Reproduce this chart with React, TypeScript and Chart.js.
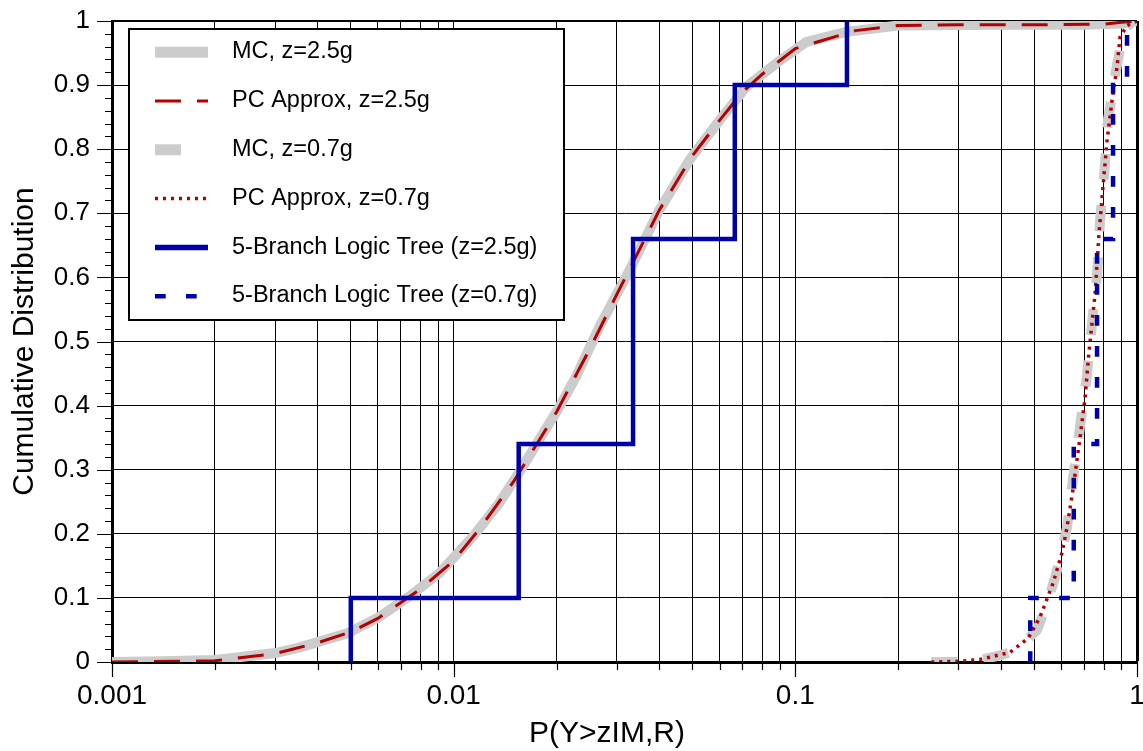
import React, { useEffect, useRef } from 'react';
import { Chart, registerables } from 'chart.js';

Chart.register(...registerables);

// ---- Data ----
const mc25X = [0.001, 0.0014, 0.002, 0.003, 0.0035, 0.004, 0.0049, 0.006, 0.0074, 0.0091, 0.0114, 0.0136, 0.0156, 0.0178, 0.0204, 0.0228, 0.0267, 0.0327, 0.04, 0.049, 0.06, 0.0717, 0.09, 0.1075, 0.141, 0.2, 0.4, 0.7, 0.9, 1.0];
const mc25Y = [0, 0.001, 0.003, 0.014, 0.022, 0.031, 0.045, 0.069, 0.102, 0.139, 0.196, 0.248, 0.297, 0.347, 0.398, 0.445, 0.523, 0.611, 0.705, 0.783, 0.845, 0.897, 0.938, 0.967, 0.983, 0.993, 0.994, 0.994, 0.996, 1.0];

const pc25X = [0.001, 0.002, 0.003, 0.004, 0.005, 0.006, 0.008, 0.01, 0.012, 0.015, 0.02, 0.025, 0.03, 0.04, 0.05, 0.06, 0.07, 0.08, 0.1, 0.15, 0.2, 0.3, 0.5, 0.8, 0.9, 1.0];
const pc25Y = [0, 0.002, 0.013, 0.03, 0.047, 0.068, 0.114, 0.158, 0.21, 0.282, 0.39, 0.488, 0.573, 0.705, 0.79, 0.845, 0.889, 0.917, 0.957, 0.985, 0.993, 0.994, 0.994, 0.995, 0.998, 1.0];

const mc07X = [0.25, 0.3, 0.35, 0.389, 0.43, 0.47, 0.51, 0.545, 0.575, 0.6, 0.624, 0.65, 0.681, 0.714, 0.738, 0.764, 0.779, 0.803, 0.822, 0.868, 0.916, 0.973, 1.0];
const mc07Y = [0, 0, 0.004, 0.009, 0.016, 0.032, 0.05, 0.09, 0.131, 0.168, 0.21, 0.287, 0.367, 0.448, 0.526, 0.605, 0.686, 0.766, 0.845, 0.923, 0.988, 0.999, 1.0];

const pc07X = [0.25, 0.3, 0.347, 0.425, 0.48, 0.52, 0.568, 0.603, 0.624, 0.65, 0.681, 0.704, 0.722, 0.754, 0.774, 0.795, 0.817, 0.845, 0.874, 0.892, 0.935, 1.0];
const pc07Y = [0, 0.001, 0.004, 0.015, 0.037, 0.07, 0.123, 0.17, 0.21, 0.27, 0.35, 0.41, 0.478, 0.575, 0.668, 0.741, 0.813, 0.876, 0.928, 0.975, 0.993, 1.0];

const tree25X = [0.005, 0.005, 0.0155, 0.0335, 0.0665, 0.1416];
const tree25Y = [0, 0.1, 0.34, 0.66, 0.9, 1.0];

const tree07X = [0.487, 0.487, 0.653, 0.764, 0.851, 0.935];
const tree07Y = [0, 0.1, 0.34, 0.66, 0.9, 1.0];

const seriesLabels = [
  'MC, z=2.5g',
  'PC Approx, z=2.5g',
  'MC, z=0.7g',
  'PC Approx, z=0.7g',
  '5-Branch Logic Tree (z=2.5g)',
  '5-Branch Logic Tree (z=0.7g)',
];

const xGridValues = [
  0.001, 0.002, 0.003, 0.004, 0.005, 0.006, 0.007, 0.008, 0.009,
  0.01, 0.02, 0.03, 0.04, 0.05, 0.06, 0.07, 0.08, 0.09,
  0.1, 0.2, 0.3, 0.4, 0.5, 0.6, 0.7, 0.8, 0.9, 1,
];
const xDecadeValues = [0.001, 0.01, 0.1, 1];
const xDecadeLabels = ['0.001', '0.01', '0.1', '1'];

const yTickValues = [0, 0.1, 0.2, 0.3, 0.4, 0.5, 0.6, 0.7, 0.8, 0.9, 1];
const yTickLabels = ['0', '0.1', '0.2', '0.3', '0.4', '0.5', '0.6', '0.7', '0.8', '0.9', '1'];

const xTitle = 'P(Y>zIM,R)';
const yTitle = 'Cumulative Distribution';

const FONT = "'Liberation Sans', Arial, Helvetica, sans-serif";
const GRAY = '#cccccc';
const RED = '#b40000';
const BLUE = '#0000aa';

const pts = (xs: number[], ys: number[]) => xs.map((x, i) => ({ x, y: ys[i] }));

const overlayPlugin = {
  id: 'overlay',
  afterDraw(chart: any) {
    const { ctx, chartArea, scales } = chart;
    const xs = scales.x;
    const ys = scales.y;
    ctx.save();

    // tick marks
    ctx.strokeStyle = '#000';
    ctx.lineWidth = 1.2;
    ctx.setLineDash([]);
    ctx.beginPath();
    yTickValues.forEach((v) => {
      const py = Math.round(ys.getPixelForValue(v)) + 0.5;
      ctx.moveTo(chartArea.left - 15, py);
      ctx.lineTo(chartArea.left, py);
    });
    for (let i = 0; i < 10; i++) {
      for (let k = 1; k < 5; k++) {
        const v = i / 10 + k / 50;
        const py = Math.round(ys.getPixelForValue(v)) + 0.5;
        ctx.moveTo(chartArea.left - 7, py);
        ctx.lineTo(chartArea.left, py);
      }
    }
    xGridValues.forEach((v) => {
      const px = Math.round(xs.getPixelForValue(v)) + 0.5;
      const len = xDecadeValues.includes(v) ? 15 : 8;
      ctx.moveTo(px, chartArea.bottom);
      ctx.lineTo(px, chartArea.bottom + len);
    });
    ctx.stroke();

    // axis titles
    ctx.fillStyle = '#000';
    ctx.font = `30px ${FONT}`;
    ctx.textAlign = 'center';
    ctx.textBaseline = 'alphabetic';
    ctx.fillText(xTitle, 607, 742);
    ctx.save();
    ctx.translate(33, (chartArea.top + chartArea.bottom) / 2);
    ctx.rotate(-Math.PI / 2);
    ctx.fillText(yTitle, 0, 0);
    ctx.restore();

    // legend box
    ctx.fillStyle = '#fff';
    ctx.fillRect(128, 28, 437, 293);
    ctx.strokeStyle = '#000';
    ctx.lineWidth = 2;
    ctx.strokeRect(129, 29, 435, 291);

    const datasets = chart.data.datasets;
    ctx.font = `23.5px ${FONT}`;
    ctx.textAlign = 'left';
    datasets.forEach((ds: any, i: number) => {
      const yRow = 52.2 + i * 48.8;
      ctx.save();
      ctx.strokeStyle = ds.borderColor;
      ctx.lineWidth = ds.legendWidth || ds.borderWidth;
      ctx.lineCap = 'butt';
      ctx.setLineDash(ds.borderDash || []);
      ctx.lineDashOffset = 0;
      ctx.beginPath();
      ctx.moveTo(155, yRow);
      ctx.lineTo(ds.legendEnd || 208, yRow);
      ctx.stroke();
      ctx.restore();
      ctx.fillStyle = '#000';
      ctx.fillText(ds.label, 232, yRow + 6.2);
    });

    ctx.restore();
  },
};

export default function App() {
  const ref = useRef<HTMLCanvasElement>(null);

  useEffect(() => {
    if (!ref.current) return;
    const chart = new Chart(ref.current, {
      type: 'line',
      data: {
        datasets: [
          {
            label: seriesLabels[0],
            data: pts(mc25X, mc25Y),
            borderColor: GRAY,
            borderWidth: 10,
            legendWidth: 11,
            borderCapStyle: 'round',
            borderJoinStyle: 'round',
            pointRadius: 0,
            tension: 0,
            order: 6,
          } as any,
          {
            label: seriesLabels[1],
            data: pts(pc25X, pc25Y),
            borderColor: RED,
            borderWidth: 3,
            borderDash: [26, 16],
            pointRadius: 0,
            tension: 0,
            order: 4,
          },
          {
            label: seriesLabels[2],
            data: pts(mc07X, mc07Y),
            borderColor: GRAY,
            borderWidth: 10,
            legendWidth: 11,
            legendEnd: 207,
            borderDash: [26, 26],
            pointRadius: 0,
            tension: 0,
            order: 5,
          } as any,
          {
            label: seriesLabels[3],
            data: pts(pc07X, pc07Y),
            borderColor: RED,
            borderWidth: 3.5,
            borderDash: [3, 5],
            pointRadius: 0,
            tension: 0,
            order: 3,
          },
          {
            label: seriesLabels[4],
            data: pts(tree25X, tree25Y),
            borderColor: BLUE,
            borderWidth: 4.5,
            legendWidth: 5.5,
            stepped: 'before',
            pointRadius: 0,
            order: 2,
          } as any,
          {
            label: seriesLabels[5],
            data: pts(tree07X, tree07Y),
            borderColor: BLUE,
            borderWidth: 4.5,
            borderDash: [10.7, 20.3],
            stepped: 'before',
            pointRadius: 0,
            order: 1,
          } as any,
        ],
      },
      options: {
        responsive: true,
        maintainAspectRatio: false,
        animation: false,
        devicePixelRatio: 1,
        layout: { padding: { top: 21, right: 6, left: 0, bottom: 0 } },
        plugins: {
          legend: { display: false },
          tooltip: { enabled: false },
          title: { display: false },
        },
        events: [],
        scales: {
          x: {
            type: 'logarithmic',
            min: 0.001,
            max: 1,
            afterBuildTicks: (s: any) => {
              s.ticks = xGridValues.map((v) => ({ value: v, major: false }));
            },
            afterFit: (s: any) => {
              s.height = 89;
              s.paddingLeft = 0;
              s.paddingRight = 0;
            },
            ticks: {
              autoSkip: false,
              maxRotation: 0,
              minRotation: 0,
              padding: 17,
              color: '#000',
              font: { family: FONT, size: 28 },
              callback: (v: any) => {
                const i = xDecadeValues.indexOf(Number(v));
                return i >= 0 ? xDecadeLabels[i] : '';
              },
            },
            grid: {
              drawTicks: false,
              color: '#000',
              lineWidth: (c: any) => (c.tick && c.tick.value === 1 ? 3 : 1),
            },
            border: { display: true, color: '#000', width: 3 },
          },
          y: {
            type: 'linear',
            min: 0,
            max: 1,
            afterBuildTicks: (s: any) => {
              s.ticks = yTickValues.map((v) => ({ value: v }));
            },
            afterFit: (s: any) => {
              s.width = 112;
              s.paddingTop = 0;
              s.paddingBottom = 0;
            },
            ticks: {
              padding: 22,
              color: '#000',
              font: { family: FONT, size: 26 },
              callback: (_v: any, i: number) => yTickLabels[i],
            },
            grid: {
              drawTicks: false,
              color: '#000',
              lineWidth: (c: any) => (c.tick && c.tick.value === 1 ? 2 : 1),
            },
            border: { display: true, color: '#000', width: 3 },
          },
        },
      } as any,
      plugins: [overlayPlugin],
    });
    return () => chart.destroy();
  }, []);

  return (
    <div style={{ position: 'fixed', left: 0, top: 0, width: 1143, height: 751, background: '#fff' }}>
      <canvas ref={ref} />
    </div>
  );
}
